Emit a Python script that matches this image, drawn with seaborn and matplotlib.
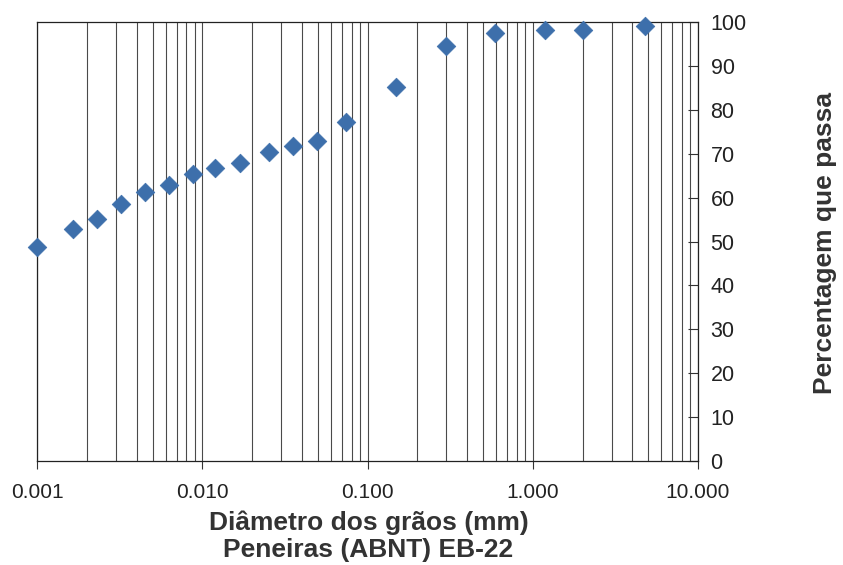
import matplotlib
matplotlib.use("Agg")
import matplotlib.pyplot as plt
import matplotlib.ticker as mticker
import numpy as np
import pandas as pd
import seaborn as sns

diametro_mm = [0.001, 0.00166, 0.00232, 0.00324, 0.00453, 0.00631, 0.00882,
               0.0120, 0.0168, 0.0252, 0.0352, 0.0491, 0.074, 0.149,
               0.297, 0.59, 1.19, 2.0, 4.76]
percentagem = [48.7, 52.9, 55.1, 58.6, 61.2, 62.9, 65.3,
               66.7, 67.9, 70.3, 71.7, 72.8, 77.3, 85.1,
               94.6, 97.6, 98.2, 98.2, 99.2]
x_ticks = [0.001, 0.01, 0.1, 1.0, 10.0]
y_ticks = [0, 10, 20, 30, 40, 50, 60, 70, 80, 90, 100]
x_label_1 = "Diâmetro dos grãos (mm)"
x_label_2 = "Peneiras (ABNT) EB-22"
y_label = "Percentagem que passa"

sns.set_theme(style="white")
plt.rcParams['font.family'] = ['Liberation Sans', 'DejaVu Sans']

df = pd.DataFrame({"d": diametro_mm, "p": percentagem})

fig = plt.figure(figsize=(8.43, 5.65), dpi=100)
ax = fig.add_axes([0.044, 0.184, 0.784, 0.777])

sns.scatterplot(data=df, x="d", y="p", ax=ax, marker="D", s=90,
                color="#3D6FAB", edgecolor="#3D6FAB", linewidth=0.5,
                zorder=5, clip_on=False, legend=False)

ax.set_xscale("log")
ax.set_xlim(0.001, 10)
ax.set_ylim(0, 100)
ax.set_xticks(x_ticks)
ax.xaxis.set_major_formatter(mticker.FuncFormatter(lambda v, p: f"{v:.3f}"))
ax.xaxis.set_minor_locator(mticker.LogLocator(base=10, subs=np.arange(1, 10)))
ax.xaxis.set_minor_formatter(mticker.NullFormatter())
ax.grid(True, which="both", axis="x", color="#4a4a4a", linewidth=0.8)
ax.grid(False, axis="y")

ax.set_yticks(y_ticks)
ax.yaxis.tick_right()
ax.tick_params(axis="y", which="major", direction="in", length=7, width=0.8,
               color="#333333", labelsize=15.5, pad=9, left=False, right=True,
               labelcolor="#222222")
ax.tick_params(axis="x", which="major", direction="out", length=6, width=0.8,
               color="#333333", labelsize=15, pad=10, bottom=True,
               labelcolor="#222222")
ax.tick_params(axis="x", which="minor", length=0)

for side in ["top", "bottom", "left", "right"]:
    ax.spines[side].set_visible(True)
    ax.spines[side].set_color("#222222")
    ax.spines[side].set_linewidth(0.9)

ax.set_xlabel("")
ax.set_ylabel("")
fig.text(0.437, 0.074, x_label_1, fontsize=19, fontweight="bold",
         color="#333333", ha="center", va="center")
fig.text(0.437, 0.026, x_label_2, fontsize=19, fontweight="bold",
         color="#333333", ha="center", va="center")
fig.text(0.979, 0.57, y_label, rotation=90, fontsize=19, fontweight="bold",
         color="#333333", ha="center", va="center")

fig.savefig("out.png", dpi=100)
